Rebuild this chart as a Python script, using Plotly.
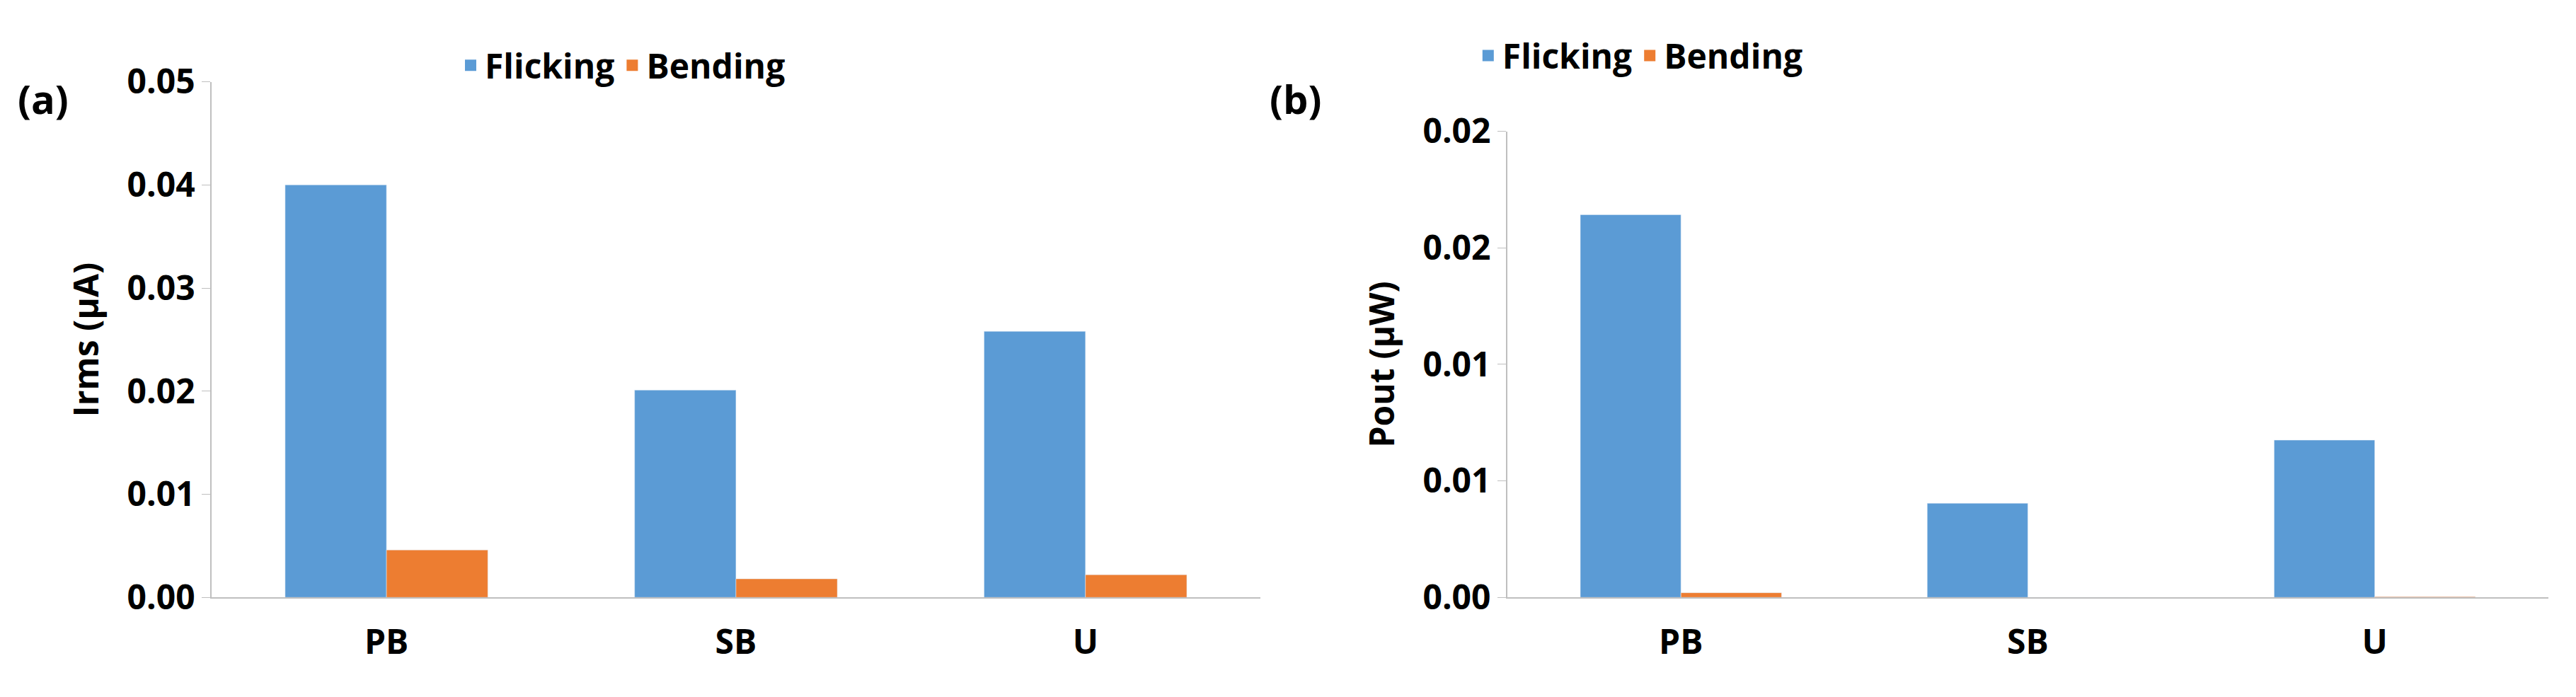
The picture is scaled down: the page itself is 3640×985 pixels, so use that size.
import plotly.graph_objects as go

categories = ["PB", "SB", "U"]
irms_flicking = [0.0400, 0.0201, 0.0258]
irms_bending = [0.0046, 0.0018, 0.0022]
pout_flicking = [0.01642, 0.00404, 0.00675]
pout_bending = [0.0002, 0.0, 0.00003]
a_ticks = [0, 0.01, 0.02, 0.03, 0.04, 0.05]
a_ticktext = ["0.00", "0.01", "0.02", "0.03", "0.04", "0.05"]
b_ticks = [0, 0.005, 0.01, 0.015, 0.02]
b_ticktext = ["0.00", "0.01", "0.01", "0.02", "0.02"]

BLUE = "#5B9BD5"
ORANGE = "#ED7D31"
FONT = "Open Sans"
FS = 48

fig = go.Figure()
fig.add_bar(x=categories, y=irms_flicking, name="Flicking", marker_color=BLUE, xaxis="x", yaxis="y", showlegend=False)
fig.add_bar(x=categories, y=irms_bending, name="Bending", marker_color=ORANGE, xaxis="x", yaxis="y", showlegend=False)
fig.add_bar(x=categories, y=pout_flicking, name="Flicking", marker_color=BLUE, xaxis="x2", yaxis="y2", showlegend=False)
fig.add_bar(x=categories, y=pout_bending, name="Bending", marker_color=ORANGE, xaxis="x2", yaxis="y2", showlegend=False)
# legend entries with large square swatches
for leg, xa, ya in [("legend", "x", "y"), ("legend2", "x2", "y2")]:
    for nm, col in [("Flicking", BLUE), ("Bending", ORANGE)]:
        fig.add_scatter(x=[None], y=[None], mode="markers", name=nm, xaxis=xa, yaxis=ya, legend=leg,
                        marker=dict(symbol="square", size=40, color=col))

tickfont = dict(family=FONT, size=FS, color="black", weight="bold")
base = dict(showgrid=False, tickfont=tickfont, showline=True, linecolor="#BFBFBF", linewidth=2)
ytitle = dict(family=FONT, size=FS, weight="bold")

fig.update_layout(
    width=3640, height=985, paper_bgcolor="white", plot_bgcolor="white",
    margin=dict(l=0, r=0, t=0, b=0),
    barmode="group", bargap=0.42, bargroupgap=0,
    font=dict(family=FONT, color="black"),
    xaxis=dict(domain=[0.080, 0.487], anchor="y", ticks="", ticklabelstandoff=20, **base),
    yaxis=dict(domain=[0.128, 0.920], anchor="x", range=[0, 0.05], tickvals=a_ticks, ticktext=a_ticktext,
               title=dict(text="Irms (µA)", font=ytitle, standoff=25),
               ticks="outside", ticklen=12, tickcolor="#BFBFBF", **base),
    xaxis2=dict(domain=[0.583, 0.987], anchor="y2", ticks="", ticklabelstandoff=20, **base),
    yaxis2=dict(domain=[0.128, 0.844], anchor="x2", range=[0, 0.02], tickvals=b_ticks, ticktext=b_ticktext,
                title=dict(text="Pout (µW)", font=ytitle, standoff=25),
                ticks="outside", ticklen=12, tickcolor="#BFBFBF", **base),
    legend=dict(orientation="h", x=0.175, y=0.945, xanchor="left", yanchor="middle",
                font=dict(family=FONT, size=FS, weight="bold"), bgcolor="rgba(0,0,0,0)"),
    legend2=dict(orientation="h", x=0.570, y=0.96, xanchor="left", yanchor="middle",
                 font=dict(family=FONT, size=FS, weight="bold"), bgcolor="rgba(0,0,0,0)"),
    annotations=[
        dict(text="(a)", x=0.004, y=0.895, xref="paper", yref="paper", xanchor="left", yanchor="middle", showarrow=False,
             font=dict(family=FONT, size=56, weight="bold")),
        dict(text="(b)", x=0.490, y=0.895, xref="paper", yref="paper", xanchor="left", yanchor="middle", showarrow=False,
             font=dict(family=FONT, size=56, weight="bold")),
    ],
)
fig.write_html("out.html")
